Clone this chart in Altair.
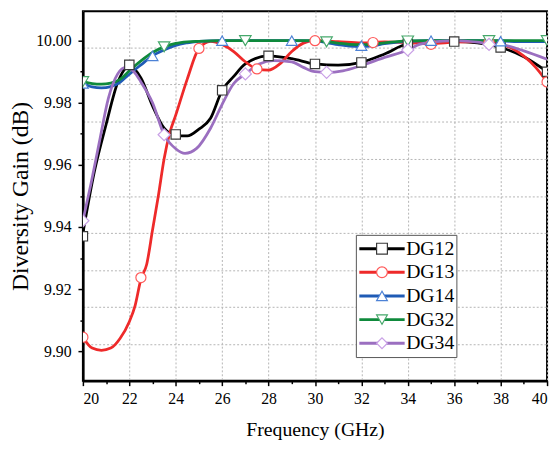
import altair as alt
import pandas as pd

SERIF = "Liberation Serif"

# ---------------- data ----------------
series_names = ["DG12", "DG13", "DG14", "DG32", "DG34"]
marker_keys = ["m12", "m13", "m14", "m32", "m34"]
line_colors = ["#000000", "#ee2a2a", "#1f5bb5", "#0f8a3c", "#9b6fc0"]
marker_colors = ["#3a3a3a", "#ff5a5a", "#4d82d6", "#46a86b", "#c9a0e6"]
marker_shapes = ["square", "circle", "triangle-up", "triangle-down", "diamond"]
marker_sizes = [90, 150, 165, 165, 190]

# curve knots (frequency in GHz, diversity gain in dB)
dg12_x = [20, 20.5, 21, 21.5, 22, 22.5, 23, 23.5, 24, 24.5, 25, 25.5, 26, 26.5, 27, 28,
          29, 30, 31, 32, 33, 34, 35, 36, 37, 38, 39, 40]
dg12_y = [9.938, 9.958, 9.973, 9.9865, 9.9918, 9.988, 9.979, 9.9718, 9.9695, 9.9693, 9.9715,
          9.975, 9.984, 9.9885, 9.9925, 9.9951, 9.9942, 9.9925, 9.9921, 9.993, 9.9957, 9.999,
          9.9997, 9.9998, 9.9993, 9.9978, 9.9948, 9.990]

dg13_x = [20, 20.4, 20.8, 21.2, 21.6, 22, 22.25, 22.5, 22.75, 23, 23.25, 23.5, 23.75, 24,
          24.5, 25, 25.5, 26, 26.5, 27, 27.5, 28, 28.5, 29, 29.5, 30, 31, 32, 32.5, 33, 34,
          35, 36, 37, 37.5, 38, 38.5, 39, 39.5, 40]
dg13_y = [9.9045, 9.901, 9.9003, 9.901, 9.9041, 9.9095, 9.9147, 9.9232, 9.928, 9.939, 9.950,
          9.962, 9.9705, 9.976, 9.9877, 9.9975, 9.9998, 9.9988, 9.9965, 9.9932, 9.9909, 9.9905,
          9.9926, 9.9965, 9.9992, 10.000, 9.9997, 9.9993, 9.9994, 9.9996, 9.9994, 9.9990,
          9.9995, 9.9997, 9.9996, 9.9988, 9.9975, 9.995, 9.9915, 9.9867]

dg14_x = [20, 20.4, 20.8, 21.2, 21.6, 22, 22.5, 23, 23.5, 24, 24.5, 25, 26, 27, 28, 29, 30,
          30.5, 31, 31.5, 32, 32.5, 33, 34, 35, 36, 37, 38, 39, 40]
dg14_y = [9.9862, 9.9851, 9.9848, 9.9852, 9.9866, 9.9892, 9.9922, 9.9951, 9.9970, 9.9985,
          9.9993, 9.9998, 10.000, 10.000, 10.000, 10.000, 9.9999, 9.9994, 9.9987, 9.9982,
          9.9981, 9.9984, 9.9990, 9.9998, 10.000, 10.000, 10.000, 9.9999, 9.9997, 9.9997]

dg32_x = [20, 20.4, 20.8, 21.2, 21.6, 22, 22.5, 23, 23.5, 24, 24.5, 25, 26, 27, 28, 29, 30,
          30.5, 31, 31.5, 32, 32.5, 33, 34, 35, 36, 37, 38, 39, 40]
dg32_y = [9.9868, 9.9862, 9.9860, 9.9863, 9.9875, 9.9903, 9.9935, 9.9962, 9.9980, 9.9991,
          9.9996, 9.9998, 10.000, 10.000, 10.000, 10.000, 10.000, 9.9997, 9.9992, 9.9988,
          9.9987, 9.9989, 9.9993, 9.9999, 10.000, 10.000, 10.000, 10.000, 10.000, 10.000]

dg34_x = [20, 20.35, 20.7, 21.1, 21.5, 21.85, 22.2, 22.5, 23.0, 23.5, 24.0, 24.4, 24.9, 25.5,
          26.0, 26.5, 27.0, 27.6, 28.2, 29.0, 29.5, 30.0, 30.5, 31.2, 32.0, 33.0, 34.0, 34.5,
          35.0, 36.0, 37.0, 37.5, 38.2, 39.0, 40.0]
dg34_y = [9.942, 9.954, 9.967, 9.9815, 9.9893, 9.9914, 9.990, 9.9867, 9.980, 9.9697, 9.9652,
          9.9637, 9.9653, 9.9718, 9.9795, 9.9862, 9.9893, 9.9925, 9.9936, 9.9932, 9.9914,
          9.990, 9.9898, 9.9903, 9.992, 9.9946, 9.997, 9.9988, 9.9995, 10.000, 9.9995, 9.9990,
          9.9985, 9.9967, 9.994]

# marker positions
dg12_mx = [20, 22, 24, 26, 28, 30, 32, 34, 36, 38, 40]
dg12_my = [9.937, 9.9922, 9.9698, 9.984, 9.9951, 9.9925, 9.993, 9.999, 9.9997, 9.9978, 9.990]
dg13_mx = [20, 22.5, 25, 27.5, 30, 32.5, 35, 37.5, 40]
dg13_my = [9.9045, 9.9237, 9.9975, 9.9909, 10.000, 9.9994, 9.9988, 9.9996, 9.9867]
dg14_mx = [20, 23, 26, 29, 32, 35, 38]
dg14_my = [9.9862, 9.9951, 10.000, 10.000, 9.9984, 10.000, 9.9998]
dg32_mx = [20, 23.5, 27, 30.5, 34, 37.5, 40]
dg32_my = [9.9868, 9.998, 10.000, 9.9996, 9.9999, 10.000, 10.000]
dg34_mx = [20, 23.5, 27, 30.5, 34, 37.5]
dg34_my = [9.942, 9.9697, 9.9893, 9.9898, 9.997, 9.9988]

x_ticks = [20, 22, 24, 26, 28, 30, 32, 34, 36, 38, 40]
x_minor = [21, 23, 25, 27, 29, 31, 33, 35, 37, 39]
y_ticks = [9.90, 9.92, 9.94, 9.96, 9.98, 10.00]
y_minor = [9.91, 9.93, 9.95, 9.97, 9.99]
y_grid = [9.9022, 9.9142, 9.9261, 9.9381, 9.9500, 9.9620, 9.9739, 9.9859, 9.9978]

# ---------------- tables ----------------
line_sets = [(dg12_x, dg12_y), (dg13_x, dg13_y), (dg14_x, dg14_y), (dg32_x, dg32_y), (dg34_x, dg34_y)]
mark_sets = [(dg12_mx, dg12_my), (dg13_mx, dg13_my), (dg14_mx, dg14_my), (dg32_mx, dg32_my), (dg34_mx, dg34_my)]

lines_df = pd.concat(
    [pd.DataFrame({"series": n, "freq": xs, "gain": ys}) for n, (xs, ys) in zip(series_names, line_sets)],
    ignore_index=True)
marks_df = pd.concat(
    [pd.DataFrame({"mk": k, "freq": xs, "gain": ys}) for k, (xs, ys) in zip(marker_keys, mark_sets)],
    ignore_index=True)

xscale = alt.Scale(domain=[20, 40], nice=False, zero=False)
yscale = alt.Scale(domain=[9.8905, 10.0095], nice=False, zero=False)

LEG_X, LEG_Y = 277, 227
font_kw = dict(labelFont=SERIF, titleFont=SERIF, labelColor="black", titleColor="black",
               tickColor="black", domainColor="black")

# legend symbol shape chosen per entry (built from the shape lists)
shape_expr = "".join(f"datum.value == '{k}' ? '{s}' : " for k, s in zip(marker_keys, marker_shapes)) + "'circle'"

# ---------------- layers ----------------
lines = alt.Chart(lines_df).mark_line(strokeWidth=2.8, interpolate="monotone", clip=True).encode(
    x=alt.X("freq:Q", scale=xscale, axis=alt.Axis(
        orient="bottom", values=x_ticks, format="d", title="Frequency (GHz)",
        grid=True, gridDash=[2, 2], gridColor="#b4b4b4", gridWidth=1,
        tickSize=5, tickWidth=1.5, domainWidth=2.5, labelFontSize=16, labelPadding=5,
        titleFontSize=20, titlePadding=14, titleFontWeight="normal", **font_kw)),
    y=alt.Y("gain:Q", scale=yscale, axis=alt.Axis(
        orient="left", values=y_ticks, format=".2f", title="Diversity Gain (dB)",
        grid=False, tickSize=5, tickWidth=1.5, domainWidth=2.5, labelFontSize=16,
        labelPadding=7, titleFontSize=24, titlePadding=3, titleFontWeight="normal", **font_kw)),
    color=alt.Color("series:N", scale=alt.Scale(domain=series_names, range=line_colors),
                    legend=alt.Legend(orient="none", legendX=LEG_X, legendY=LEG_Y, title=None,
                                      padding=2, symbolType="stroke", symbolSize=2116,
                                      symbolStrokeWidth=3, clipHeight=24, rowPadding=0,
                                      labelFont=SERIF, labelFontSize=20, labelColor="black",
                                      labelOffset=0, strokeColor="#555555", fillColor="white",
                                      zindex=1)),
)

leg2 = alt.Legend(orient="none", legendX=LEG_X, legendY=LEG_Y, title=None, padding=2,
                  symbolSize=120, symbolStrokeWidth=1.2, symbolOffset=14.5, clipHeight=24,
                  rowPadding=0, labelFont=SERIF, labelFontSize=20, labelExpr="''",
                  labelOffset=0, symbolFillColor="white", zindex=2,
                  symbolType=alt.ExprRef(expr=shape_expr))

markers = alt.Chart(marks_df).mark_point(filled=False, fill="white", strokeWidth=1.2, opacity=1,
                                         clip=True).encode(
    x=alt.X("freq:Q", scale=xscale, axis=alt.Axis(
        orient="bottom", values=x_minor, labels=False, grid=False, domain=False,
        tickSize=3, tickWidth=1.5, title=None, tickColor="black")),
    y=alt.Y("gain:Q", scale=yscale, axis=alt.Axis(
        orient="left", values=y_minor, labels=False, grid=False, domain=False,
        tickSize=3, tickWidth=1.5, title=None, tickColor="black")),
    color=alt.Color("mk:N", scale=alt.Scale(domain=marker_keys, range=marker_colors), legend=leg2),
    shape=alt.Shape("mk:N", scale=alt.Scale(domain=marker_keys, range=marker_shapes), legend=None),
    size=alt.Size("mk:N", scale=alt.Scale(domain=marker_keys, range=marker_sizes), legend=None),
)

gridlayer = alt.Chart(marks_df).mark_point(opacity=0).encode(
    x=alt.X("freq:Q", scale=xscale, axis=None),
    y=alt.Y("gain:Q", scale=yscale, axis=alt.Axis(
        orient="left", values=y_grid, labels=False, ticks=False, domain=False,
        grid=True, gridDash=[2, 2], gridColor="#b4b4b4", gridWidth=1, title=None)),
)

chart = alt.layer(gridlayer, lines, markers).resolve_axis(
    x="independent", y="independent"
).resolve_scale(
    color="independent"
).properties(
    width=471, height=375,
    autosize=alt.AutoSizeParams(type="none"),
    padding={"left": 76, "top": 0, "right": 4, "bottom": 59},
).configure_view(
    stroke="black", strokeWidth=2
).configure_axis(
    labelFont=SERIF, titleFont=SERIF, labelColor="black", titleColor="black",
    tickColor="black", domainColor="black"
).configure_legend(
    labelFont=SERIF
)

chart.save("out.html", embed_options={"renderer": "svg", "actions": False})
